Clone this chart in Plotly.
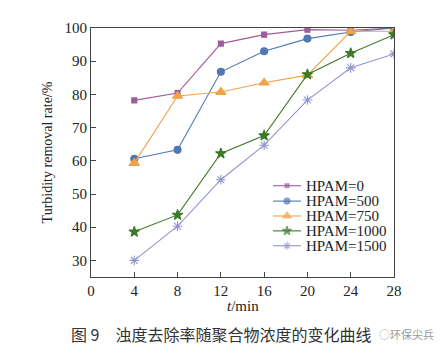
import plotly.graph_objects as go

t = [4, 8, 12, 16, 20, 24, 28]
hpam0 = [78.2, 80.4, 95.3, 98.0, 99.5, 99.3, 100.0]
hpam500 = [60.6, 63.3, 86.8, 93.0, 96.8, 98.8, 100.0]
hpam750 = [59.3, 79.5, 80.7, 83.5, 85.8, 99.0, 99.0]
hpam1000 = [38.6, 43.7, 62.2, 67.6, 86.0, 92.4, 98.0]
hpam1500 = [30.0, 40.3, 54.3, 64.7, 78.3, 88.0, 92.2]
names = ["HPAM=0", "HPAM=500", "HPAM=750", "HPAM=1000", "HPAM=1500"]
series = [hpam0, hpam500, hpam750, hpam1000, hpam1500]
colors = ["#9e5c98", "#4f78b4", "#f0a24a", "#3b7a26", "#9494cc"]
symbols = ["square", "circle", "triangle-up", "star", "asterisk-open"]
sizes = [5, 7, 9, 8, 8]

SERIF = "Liberation Serif, Times New Roman, serif"

fig = go.Figure()
for n, ys, c, s, sz in zip(names, series, colors, symbols, sizes):
    fig.add_trace(go.Scatter(
        x=t, y=ys, name=n, mode="lines+markers", showlegend=False,
        line=dict(color=c, width=1.1),
        marker=dict(symbol=s, size=sz, color=c, line=dict(color=c, width=1.1)),
    ))

# custom compact legend drawn on an overlay axis in pixel units of the plot area
leg_rows = [177, 192.5, 207.5, 222.5, 237.5]
for n, c, s, sz, yy in zip(names, colors, symbols, sizes, leg_rows):
    fig.add_trace(go.Scatter(
        x=[265, 279, 293], y=[yy, yy, yy], xaxis="x2", yaxis="y2",
        mode="lines+markers", showlegend=False, hoverinfo="skip",
        line=dict(color=c, width=1.1),
        marker=dict(symbol=s, size=[0, sz - 1, 0], color=c, line=dict(color=c, width=1.1)),
    ))
    fig.add_annotation(text=n, xref="x2", yref="y2", x=296, y=yy,
                       xanchor="left", yanchor="middle", showarrow=False,
                       font=dict(family=SERIF, size=15, color="#222"))

fig.update_layout(
    width=442, height=356,
    margin=dict(l=83, r=56, t=18, b=87),
    paper_bgcolor="white", plot_bgcolor="white",
    font=dict(family=SERIF, size=15, color="#222"),
    showlegend=False,
    xaxis=dict(range=[0, 28], tickvals=[0, 4, 8, 12, 16, 20, 24, 28],
               ticks="inside", ticklen=5, tickcolor="#444",
               showline=True, linecolor="#444", linewidth=1.2, mirror=True,
               showgrid=False, zeroline=False,
               tickfont=dict(family=SERIF, size=15)),
    yaxis=dict(range=[25, 100], tickvals=[30, 40, 50, 60, 70, 80, 90, 100],
               ticks="inside", ticklen=5, tickcolor="#444",
               showline=True, linecolor="#444", linewidth=1.2, mirror=True,
               showgrid=False, zeroline=False,
               tickfont=dict(family=SERIF, size=15),
               title=dict(text="Turbidity removal rate/%", font=dict(family=SERIF, size=14), standoff=8)),
    xaxis2=dict(overlaying="x", range=[83, 386], visible=False, fixedrange=True),
    yaxis2=dict(overlaying="y", range=[269, 18], visible=False, fixedrange=True),
)

fig.add_annotation(text="<i>t</i>/min", xref="paper", yref="paper", x=0.5, y=-0.115,
                   xanchor="center", yanchor="middle", showarrow=False,
                   font=dict(family=SERIF, size=15, color="#222"))
fig.add_annotation(text="图 9　浊度去除率随聚合物浓度的变化曲线",
                   xref="paper", yref="paper", x=0.43, y=-0.23,
                   xanchor="center", yanchor="middle", showarrow=False,
                   font=dict(family="Noto Sans CJK SC", size=16, color="#333"))
fig.add_annotation(text="◌环保尖兵",
                   xref="paper", yref="paper", x=1.14, y=-0.23,
                   xanchor="right", yanchor="middle", showarrow=False,
                   font=dict(family="Noto Sans CJK SC", size=11, color="#999"))

fig.write_html("out.html")
